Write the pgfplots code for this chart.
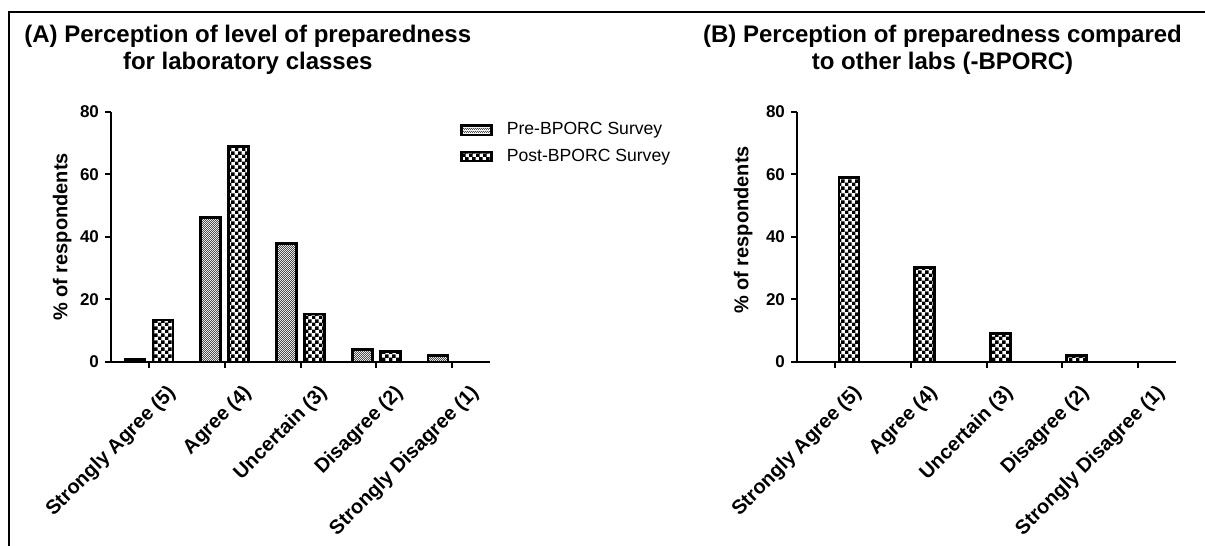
\documentclass[border=0pt]{standalone}
\usepackage{pgfplots}
\pgfplotsset{compat=1.18}
\usepackage{fontspec}
\setmainfont{Liberation Sans}
\usetikzlibrary{patterns}

% fine checker (looks grey) and coarse checker
\pgfdeclarepatternformonly{finecheck}{\pgfpointorigin}{\pgfqpoint{1.2pt}{1.2pt}}{\pgfqpoint{1.2pt}{1.2pt}}{
  \pgfpathrectangle{\pgfpointorigin}{\pgfqpoint{0.6pt}{0.6pt}}
  \pgfpathrectangle{\pgfqpoint{0.6pt}{0.6pt}}{\pgfqpoint{0.6pt}{0.6pt}}
  \pgfusepath{fill}}
\pgfdeclarepatternformonly{coarsecheck}{\pgfpointorigin}{\pgfqpoint{3.3pt}{3.3pt}}{\pgfqpoint{3.3pt}{3.3pt}}{
  \pgfpathrectangle{\pgfpointorigin}{\pgfqpoint{1.85pt}{1.85pt}}
  \pgfpathrectangle{\pgfqpoint{1.65pt}{1.65pt}}{\pgfqpoint{1.85pt}{1.85pt}}
  \pgfusepath{fill}}

\pgfplotsset{
  likert/.style={
    width=189.5pt, height=125pt, scale only axis,
    ymin=0, ymax=80, ytick={0,20,...,80},
    xmin=-0.5, xmax=4.5, xtick={0,1,2,3,4},
    xticklabels={Strongly Agree (5),Agree (4),Uncertain (3),Disagree (2),Strongly Disagree (1)},
    axis x line*=bottom, axis y line*=left,
    axis line style={line width=1pt,-},
    tick align=outside, major tick length=3pt,
    tick style={line width=1pt,black},
    /pgf/number format/assume math mode=true,
    yticklabel style={font=\fontsize{8.5}{10}\selectfont\bfseries, xshift=0.5pt},
    xticklabel style={font=\fontsize{10}{12}\selectfont\bfseries, rotate=45, anchor=north east, xshift=4pt, yshift=-8pt},
    ylabel={\% of respondents},
    ylabel style={font=\fontsize{10}{12}\selectfont\bfseries, anchor=center},
    title style={font=\fontsize{12}{13.5}\selectfont\bfseries, align=center, anchor=south, inner sep=0pt, yshift=12.5pt},
    ybar, bar width=10pt,
    every axis plot/.append style={draw=black, line width=1.35pt},
  },
  pre/.style={pattern=finecheck, pattern color=black!70, bar shift=-7pt},
  post/.style={pattern=coarsecheck, bar shift=7pt},
}

\begin{document}
\begin{tikzpicture}
\path[use as bounding box] (0pt,0pt) rectangle (602.5pt,273pt);
\draw[line width=1pt] (4.5pt,0pt) -- (4.5pt,267pt) -- (602.5pt,267pt);

\begin{axis}[likert,
  at={(55.5pt,92pt)}, anchor=south west,
  title={(A) Perception of level of preparedness\\for laboratory classes},
  title style={at={(axis description cs:0.361,1)}},
  ylabel style={at={(axis description cs:-0.129,0.5)}},
  legend style={at={(axis description cs:0.905,0.975)}, anchor=north west,
    draw=none, fill=none, font=\fontsize{8.8}{10}\selectfont,
    nodes={inner sep=0pt}, row sep=5.5pt,
    /tikz/every odd column/.append style={column sep=7pt}},
  legend cell align=left,
  legend image code/.code={\draw[#1,line width=1.2pt] (0pt,-2.3pt) rectangle (15pt,2.3pt);},
]
\addplot[pre] coordinates {(0,0.9) (1,46.2) (2,37.9) (3,4.1) (4,2.0)};
\addplot[post] coordinates {(0,13.4) (1,68.9) (2,15.4) (3,3.3) (4,0)};
\legend{Pre-BPORC Survey, Post-BPORC Survey}
\end{axis}

\begin{axis}[likert,
  at={(398.5pt,92pt)}, anchor=south west,
  title={(B) Perception of preparedness compared\\to other labs (-BPORC)},
  title style={at={(axis description cs:0.384,1)}},
  ylabel style={at={(axis description cs:-0.142,0.528)}},
]
\addplot[post] coordinates {(0,59.1) (1,30.3) (2,9.2) (3,2.1) (4,0)};
\end{axis}
\end{tikzpicture}
\end{document}
